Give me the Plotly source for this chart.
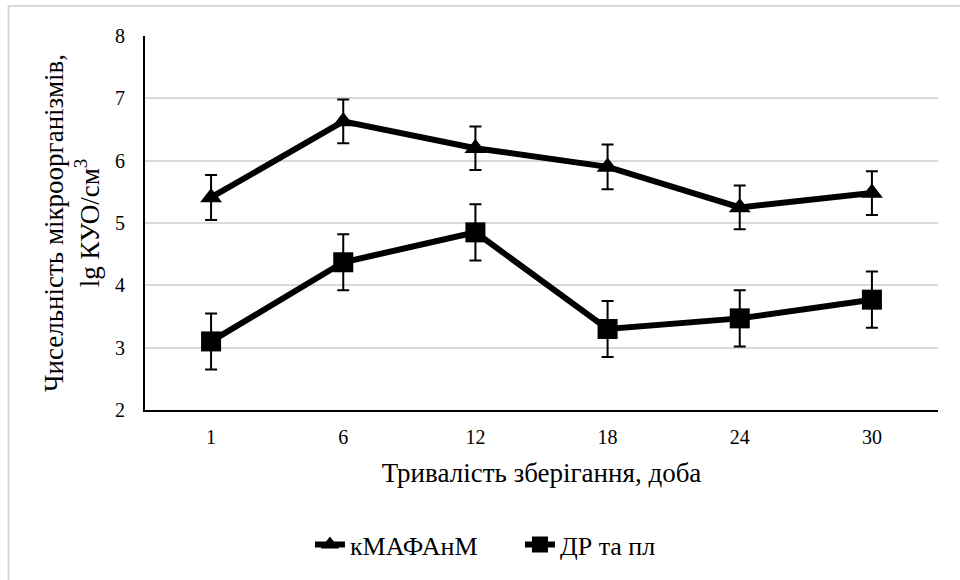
import plotly.graph_objects as go

days = ["1", "6", "12", "18", "24", "30"]
kmafanm = [5.41, 6.63, 6.2, 5.9, 5.25, 5.48]
kmafanm_err = [0.36, 0.35, 0.35, 0.36, 0.35, 0.35]
dr = [3.1, 4.37, 4.85, 3.3, 3.47, 3.77]
dr_err = [0.45, 0.45, 0.45, 0.45, 0.45, 0.45]

FONT = "Liberation Serif, DejaVu Serif, serif"

fig = go.Figure()
fig.add_trace(go.Scatter(
    x=days, y=kmafanm, name="кМАФАнМ", mode="lines+markers",
    line=dict(color="black", width=6),
    marker=dict(symbol="triangle-up", size=19, color="black"),
    error_y=dict(type="data", array=kmafanm_err, color="black", thickness=2, width=6),
))
fig.add_trace(go.Scatter(
    x=days, y=dr, name="ДР та пл", mode="lines+markers",
    line=dict(color="black", width=6),
    marker=dict(symbol="square", size=20, color="black"),
    error_y=dict(type="data", array=dr_err, color="black", thickness=2, width=6),
))

fig.update_layout(
    width=960, height=580,
    margin=dict(l=145, r=22, t=36, b=170),
    paper_bgcolor="white", plot_bgcolor="white",
    font=dict(family=FONT, size=20, color="black"),
    showlegend=True,
    legend=dict(orientation="h", x=0.208, xanchor="left", y=-0.36, yanchor="middle",
                entrywidth=165, entrywidthmode="pixels",
                font=dict(family=FONT, size=26, color="black")),
    xaxis=dict(type="category", range=[-0.5, 5.5], showgrid=False, showline=True,
               linecolor="black", linewidth=2,
               ticks="", tickfont=dict(family=FONT, size=20), ticklabelstandoff=8,
               title=dict(text="Тривалість зберігання, доба", font=dict(family=FONT, size=27), standoff=16)),
    yaxis=dict(range=[2, 8], dtick=1, showgrid=True, gridcolor="#d9d9d9", gridwidth=1.5,
               showline=True, linecolor="black", linewidth=2, zeroline=False, ticks="",
               tickfont=dict(family=FONT, size=20), ticklen=0, ticklabelstandoff=14,
               title=dict(text="Чисельність мікроорганізмів,<br>lg КУО/см<sup>3</sup>",
                          font=dict(family=FONT, size=27), standoff=8)),
    shapes=[dict(type="rect", xref="paper", yref="paper", x0=-0.172, x1=1.1, y0=-0.6, y1=1.080,
                 line=dict(color="#d9d9d9", width=2), layer="below")],
)

fig.write_html("out.html", config={"displayModeBar": False},
               post_script="document.body.style.margin='0';")
